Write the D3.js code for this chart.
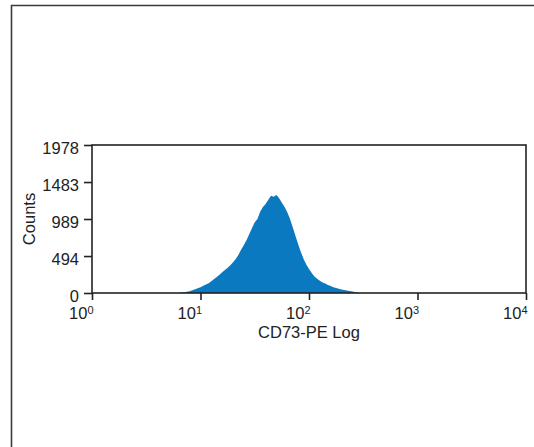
<!DOCTYPE html>
<html><head><meta charset="utf-8">
<script src="https://cdn.jsdelivr.net/npm/d3@7"></script>
<style>html,body{margin:0;padding:0;background:#fff;}svg{display:block;font-family:"Liberation Sans",Arial,sans-serif;}</style>
</head><body>
<svg id="c" width="534" height="447"></svg>
<script>
// Histogram channels: centre of each bin in log10 units, step 0.025
const binCenterLog = [0.800,0.825,0.850,0.875,0.900,0.925,0.950,0.975,1.000,1.025,1.050,1.075,1.100,1.125,1.150,1.175,1.200,1.225,1.250,1.275,1.300,1.325,1.350,1.375,1.400,1.425,1.450,1.475,1.500,1.525,1.550,1.575,1.600,1.625,1.650,1.675,1.700,1.725,1.750,1.775,1.800,1.825,1.850,1.875,1.900,1.925,1.950,1.975,2.000,2.025,2.050,2.075,2.100,2.125,2.150,2.175,2.200,2.225,2.250,2.275,2.300,2.325,2.350,2.375,2.400,2.425,2.450,2.465];
const counts = [3,6,10,16,24,36,49,62,78,96,112,131,158,186,214,243,276,306,338,372,412,455,512,580,640,708,790,870,945,990,1085,1150,1190,1245,1300,1285,1310,1265,1205,1150,1080,990,880,765,650,548,455,380,320,268,222,190,165,142,126,108,92,78,67,57,48,40,33,27,21,14,6,0];
const yTicks = [0,494,989,1483,1978];
const xTicks = [1,10,100,1000,10000];
const xExponents = ["0","1","2","3","4"];
const xLabel = "CD73-PE Log";
const yLabel = "Counts";

const svg = d3.select("#c");
const M = {left:92, right:526, top:145, bottom:293};
const x = d3.scaleLog().domain([1,10000]).range([M.left,M.right]);
const y = d3.scaleLinear().domain([0,1978]).range([M.bottom,M.top]);

// outer frame (left & top only)
svg.append("path").attr("d",`M11.5,447 V5.5 H534`).attr("fill","none").attr("stroke","#3a3a3a").attr("stroke-width",1.6);

// histogram
const pts = binCenterLog.map((l,i)=>({v:Math.pow(10,l), c:counts[i]}));
const area = d3.area().curve(d3.curveLinear)
  .x(d=>x(d.v)).y0(y(0)).y1(d=>y(d.c));
svg.append("path").datum(pts).attr("d",area).attr("fill","#0a79c0");

// plot frame
svg.append("rect").attr("x",M.left).attr("y",M.top).attr("width",M.right-M.left).attr("height",M.bottom-M.top)
  .attr("fill","none").attr("stroke","#222").attr("stroke-width",1.6);

// y axis
const ya = svg.append("g").attr("transform",`translate(${M.left},0)`)
  .call(d3.axisLeft(y).tickValues(yTicks).tickSize(8).tickPadding(5).tickFormat(d3.format("d")));
ya.select(".domain").remove();
ya.selectAll("line").attr("stroke","#222").attr("stroke-width",1.6);
ya.selectAll("text").attr("font-size",16.5).attr("fill","#222").attr("font-family","Liberation Sans, Arial, sans-serif").attr("dy","0.5em");

// x axis
const xa = svg.append("g").attr("transform",`translate(0,${M.bottom})`)
  .call(d3.axisBottom(x).tickValues(xTicks).tickSize(7).tickFormat(""));
xa.select(".domain").remove();
xa.selectAll("line").attr("stroke","#222").attr("stroke-width",1.6);
xa.selectAll(".tick").each(function(d,i){
  const t = d3.select(this).append("text").attr("x",1).attr("y",25.5)
    .attr("text-anchor","end").attr("fill","#222").attr("font-size",16.5)
    .attr("font-family","Liberation Sans, Arial, sans-serif");
  t.append("tspan").text("10");
  t.append("tspan").attr("dy",-5).attr("font-size",11).text(xExponents[i]);
});

svg.append("text").attr("x",(M.left+M.right)/2).attr("y",337.5).attr("text-anchor","middle")
  .attr("font-size",16.5).attr("fill","#222").text(xLabel);
svg.append("text").attr("transform",`translate(35,${(M.top+M.bottom)/2}) rotate(-90)`).attr("text-anchor","middle")
  .attr("font-size",16.5).attr("fill","#222").text(yLabel);
</script>
</body></html>
